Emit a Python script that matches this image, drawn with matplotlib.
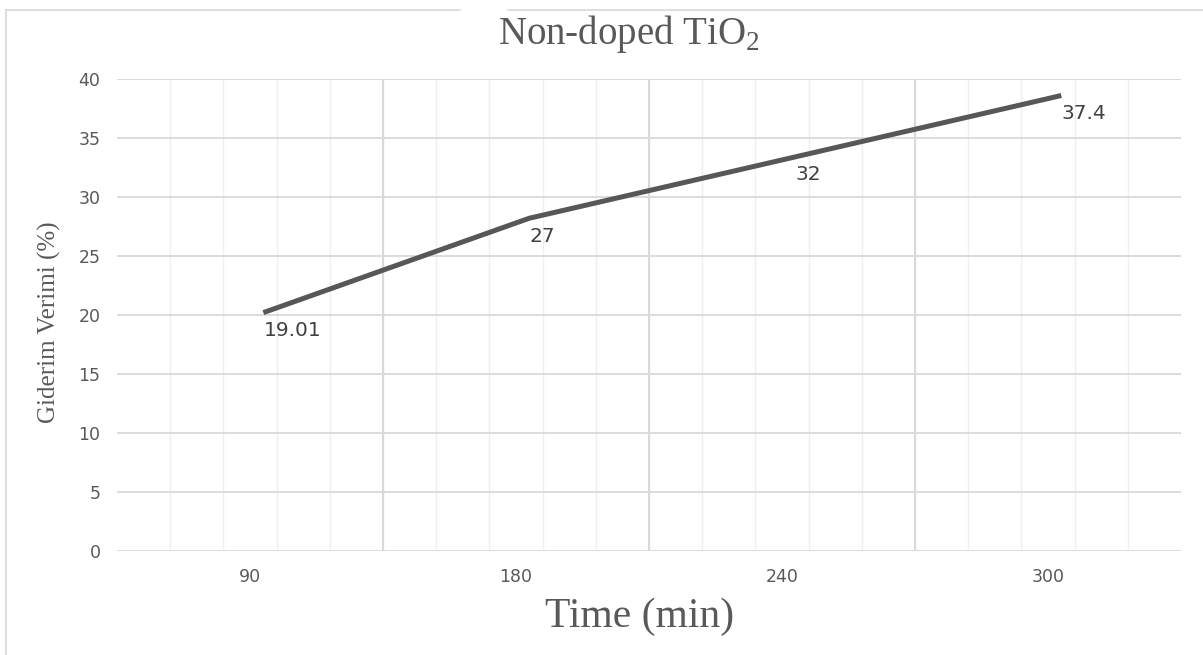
import numpy as np
import matplotlib
matplotlib.use("Agg")
import matplotlib.pyplot as plt
from matplotlib.lines import Line2D

# ------------------ Data ------------------
times = ["90", "180", "240", "300"]
removal = [20.2, 28.2, 33.4, 38.6]          # line as drawn
point_labels = ["19.01", "27", "32", "37.4"]  # data labels as shown
y_ticks = [0, 5, 10, 15, 20, 25, 30, 35, 40]

# ------------------ Style ------------------
plt.rcParams['mathtext.fontset'] = 'custom'
plt.rcParams['mathtext.rm'] = 'Liberation Serif'
text_gray = '#595959'
grid_gray = '#d9d9d9'
line_shift = 0.05  # series sits a little right of the category centres

fig = plt.figure(figsize=(12.03, 6.55), dpi=100)
ax = fig.add_axes([0.0973, 0.1588, 0.8844, 0.7206])

pos = np.arange(len(times))
ax.plot(pos + line_shift, removal, color='#575757', linewidth=3.6,
        solid_capstyle='butt', zorder=5)

for x, y, lab in zip(pos + line_shift, removal, point_labels):
    ax.annotate(lab, (x, y), xytext=(0, -6), textcoords='offset points',
                ha='left', va='top', fontsize=14.5, color='#404040',
                family='DejaVu Sans', zorder=6)

# ------------------ Axes formatting ------------------
ax.set_xlim(-0.5, len(times) - 0.5)
ax.set_ylim(0, 40)
ax.set_xticks(pos)
ax.set_xticklabels(times)
ax.set_yticks(y_ticks)
ax.set_xticks(np.arange(-0.3, 3.4, 0.2), minor=True)

for lbl in ax.get_xticklabels() + ax.get_yticklabels():
    lbl.set_family('DejaVu Sans')
    lbl.set_fontsize(12.5)
    lbl.set_color(text_gray)

ax.tick_params(axis='both', which='both', length=0)
ax.tick_params(axis='x', pad=12)
ax.tick_params(axis='y', pad=12)

ax.grid(True, axis='y', color=grid_gray, linewidth=1.3)
ax.grid(True, axis='x', which='minor', color='#efefef', linewidth=1.0)
for b in pos[:-1] + 0.5:
    ax.axvline(b, color=grid_gray, linewidth=1.5, zorder=1)
ax.set_axisbelow(True)
for s in ax.spines.values():
    s.set_visible(False)

# ------------------ Titles ------------------
fig.text(0.523, 0.948, r"Non-doped TiO$_2$", ha='center', va='center',
         family='Liberation Serif', fontsize=28, color=text_gray)
fig.text(0.532, 0.059, "Time (min)", ha='center', va='center',
         family='Liberation Serif', fontsize=30, color=text_gray)
fig.text(0.041, 0.508, "Giderim Verimi (%)", ha='center', va='center',
         rotation=90, family='Liberation Serif', fontsize=18, color=text_gray)

# outer chart border (partly hidden behind the title)
fig.add_artist(Line2D([0.005, 0.382], [0.985, 0.985], color=grid_gray, lw=1.2))
fig.add_artist(Line2D([0.422, 1.0], [0.985, 0.985], color=grid_gray, lw=1.2))
fig.add_artist(Line2D([0.005, 0.005], [0.0, 0.985], color=grid_gray, lw=1.2))

fig.savefig("out.png", dpi=100)
